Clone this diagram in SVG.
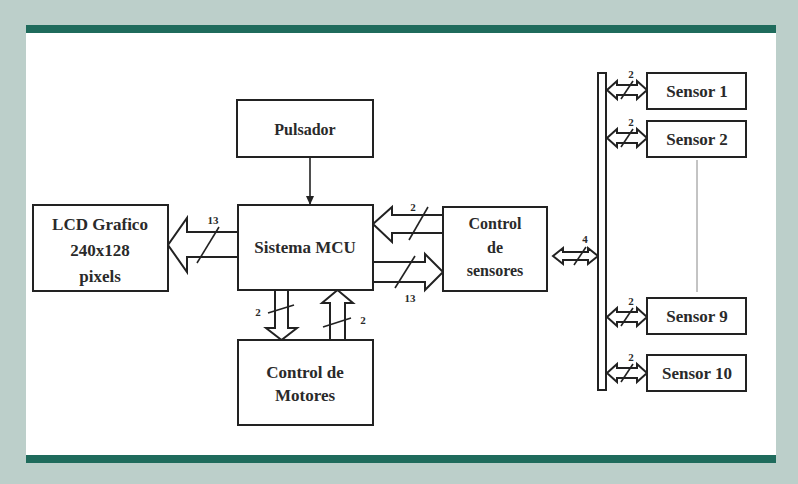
<svg xmlns="http://www.w3.org/2000/svg" width="798" height="484" viewBox="0 0 798 484">
<style>
.box{fill:#fff;stroke:#222;stroke-width:2}
.t{font-family:"Liberation Serif","Times New Roman",serif;font-weight:bold;font-size:17px;fill:#2a2a2a;text-anchor:middle}
.n{font-family:"Liberation Serif","Times New Roman",serif;font-weight:bold;font-size:11px;fill:#2a2a2a;text-anchor:middle}
.ar{fill:#fff;stroke:#222;stroke-width:2;stroke-linejoin:miter}
.sl{stroke:#222;stroke-width:1.6;fill:none}
.ln{stroke:#222;stroke-width:1.6;fill:none}
</style>
<defs>
<marker id="ah" markerWidth="10" markerHeight="10" refX="9" refY="5" orient="auto" markerUnits="userSpaceOnUse">
<path d="M0,1 L9,5 L0,9 Z" fill="#222"/>
</marker>
</defs>
<rect x="0" y="0" width="798" height="484" fill="#bccfca"/>
<rect x="26" y="32" width="750" height="424" fill="#fff"/>
<rect x="26" y="25" width="750" height="8" fill="#1f6b5c"/>
<rect x="26" y="455" width="750" height="8" fill="#1f6b5c"/>

<g id="connectors">
<line class="ln" x1="310" y1="158" x2="310" y2="205" marker-end="url(#ah)"/>
<path class="ar" d="M238,232 L187,232 L187,218 L168,245 L187,272 L187,257 L238,257"/>
<line class="sl" x1="197" y1="263" x2="219" y2="227"/>
<path class="ar" d="M443,215 L392,215 L392,207 L373,224 L392,242 L392,233 L443,233"/>
<line class="sl" x1="409" y1="240" x2="428" y2="207"/>
<path class="ar" d="M373,262 L425,262 L425,254 L443,272 L425,290 L425,282 L373,282"/>
<line class="sl" x1="395" y1="288" x2="415" y2="256"/>
<path class="ar" d="M275,290 L275,328 L266,328 L281.5,340 L297,328 L288,328 L288,290"/>
<line class="sl" x1="268" y1="313" x2="294" y2="305"/>
<path class="ar" d="M330,340 L330,303 L322,303 L337.5,290 L353,303 L345,303 L345,340"/>
<line class="sl" x1="323" y1="327" x2="351" y2="318"/>
<path class="ar" d="M553,256 L563,248 L563,252 L588,252 L588,248 L598,256 L588,264 L588,260 L563,260 L563,264 Z"/>
<line class="sl" x1="574" y1="265" x2="586" y2="247"/>
<rect x="598" y="73" width="8" height="317" fill="#fff" stroke="#222" stroke-width="2"/>
<path class="ar" d="M607,90 L617,81 L617,85 L637,85 L637,81 L647,90 L637,99 L637,95 L617,95 L617,99 Z"/>
<line class="sl" x1="621" y1="99" x2="633" y2="81"/>
<path class="ar" d="M607,138 L617,129 L617,133 L637,133 L637,129 L647,138 L637,147 L637,143 L617,143 L617,147 Z"/>
<line class="sl" x1="621" y1="147" x2="633" y2="129"/>
<path class="ar" d="M607,317 L617,308 L617,312 L637,312 L637,308 L647,317 L637,326 L637,322 L617,322 L617,326 Z"/>
<line class="sl" x1="621" y1="326" x2="633" y2="308"/>
<path class="ar" d="M607,373 L617,364 L617,368 L637,368 L637,364 L647,373 L637,382 L637,378 L617,378 L617,382 Z"/>
<line class="sl" x1="621" y1="382" x2="633" y2="364"/>
<line x1="697" y1="160" x2="697" y2="292" stroke="#888" stroke-width="1"/>
<text class="n" x="213" y="224">13</text>
<text class="n" x="413" y="211">2</text>
<text class="n" x="410" y="302">13</text>
<text class="n" x="258" y="316">2</text>
<text class="n" x="363" y="324">2</text>
<text class="n" x="585" y="243">4</text>
<text class="n" x="631" y="78">2</text>
<text class="n" x="631" y="126">2</text>
<text class="n" x="631" y="305">2</text>
<text class="n" x="631" y="361">2</text>
</g>

<g id="pulsador">
<rect class="box" x="237" y="100" width="136" height="57"/>
<text class="t" x="305" y="135" style="font-size:16px">Pulsador</text>
</g>
<g id="mcu">
<rect class="box" x="238" y="205" width="135" height="85"/>
<text class="t" x="305" y="253">Sistema MCU</text>
</g>
<g id="lcd">
<rect class="box" x="33" y="205" width="135" height="86"/>
<text class="t" x="100" y="230">LCD Grafico</text>
<text class="t" x="100" y="256">240x128</text>
<text class="t" x="100" y="282">pixels</text>
</g>
<g id="control-sensores">
<rect class="box" x="443" y="207" width="104" height="84"/>
<text class="t" x="495" y="229" style="font-size:16px">Control</text>
<text class="t" x="495" y="253" style="font-size:16px">de</text>
<text class="t" x="495" y="276" style="font-size:16px">sensores</text>
</g>
<g id="control-motores">
<rect class="box" x="238" y="340" width="135" height="85"/>
<text class="t" x="305" y="378">Control de</text>
<text class="t" x="305" y="401">Motores</text>
</g>
<g id="sensor1">
<rect class="box" x="647" y="73" width="99" height="36"/>
<text class="t" x="697" y="97">Sensor 1</text>
</g>
<g id="sensor2">
<rect class="box" x="647" y="121" width="99" height="36"/>
<text class="t" x="697" y="145">Sensor 2</text>
</g>
<g id="sensor9">
<rect class="box" x="647" y="298" width="99" height="36"/>
<text class="t" x="697" y="322">Sensor 9</text>
</g>
<g id="sensor10">
<rect class="box" x="647" y="355" width="99" height="36"/>
<text class="t" x="697" y="379">Sensor 10</text>
</g>
</svg>
